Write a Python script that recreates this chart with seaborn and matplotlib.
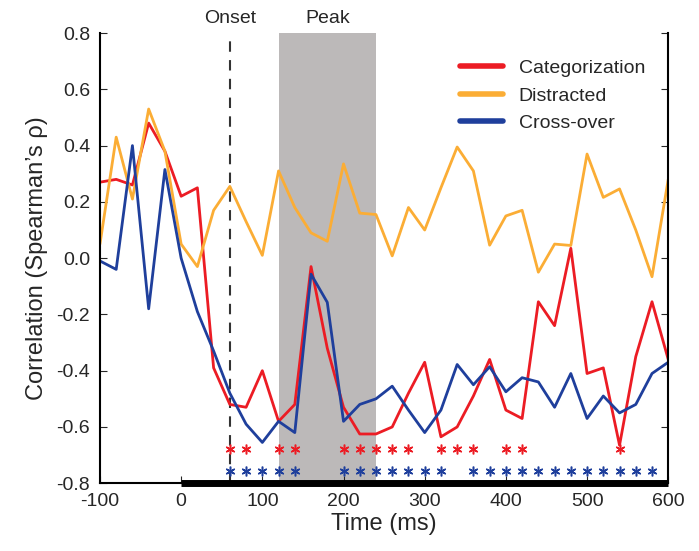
import numpy as np
import pandas as pd
import seaborn as sns
import matplotlib.pyplot as plt

times = list(range(-100, 601, 20))
categorization = [0.27, 0.28, 0.26, 0.48, 0.38, 0.22, 0.25, -0.39, -0.52, -0.53, -0.40, -0.58, -0.52, -0.03, -0.32,
                  -0.53, -0.625, -0.625, -0.60, -0.48, -0.37, -0.635, -0.60, -0.49, -0.36, -0.54, -0.57, -0.155, -0.24,
                  0.035, -0.41, -0.39, -0.665, -0.35, -0.155, -0.36]
distracted = [0.05, 0.43, 0.21, 0.53, 0.38, 0.05, -0.03, 0.17, 0.255, 0.13, 0.01, 0.31, 0.18, 0.09, 0.06, 0.335,
              0.16, 0.155, 0.008, 0.18, 0.10, 0.25, 0.395, 0.31, 0.046, 0.15, 0.17, -0.05, 0.05, 0.045, 0.37, 0.216,
              0.246, 0.10, -0.066, 0.28]
crossover = [-0.01, -0.04, 0.40, -0.18, 0.315, 0.0, -0.19, -0.33, -0.48, -0.59, -0.655, -0.58, -0.62, -0.057, -0.157,
             -0.58, -0.52, -0.50, -0.455, -0.54, -0.62, -0.54, -0.378, -0.45, -0.386, -0.475, -0.425, -0.44, -0.53,
             -0.41, -0.57, -0.49, -0.55, -0.52, -0.41, -0.37]
red_sig = [60, 80, 120, 140, 200, 220, 240, 260, 280, 320, 340, 360, 400, 420, 540]
blue_sig = [60, 80, 100, 120, 140, 200, 220, 240, 260, 280, 300, 320] + list(range(360, 581, 20))
xticks = list(range(-100, 601, 100))
yticks = [-0.8, -0.6, -0.4, -0.2, 0.0, 0.2, 0.4, 0.6, 0.8]

sns.set_style("white")
plt.rcParams['font.family'] = ['Liberation Sans', 'DejaVu Sans']

df = pd.DataFrame({"Time": times * 3,
                   "r": categorization + distracted + crossover,
                   "Condition": ["Categorization"] * 36 + ["Distracted"] * 36 + ["Cross-over"] * 36})
pal = {"Categorization": "#ec1c24", "Distracted": "#fbad35", "Cross-over": "#1f3f9c"}

fig = plt.figure(figsize=(6.99, 5.51), dpi=100)
ax = fig.add_axes([0.143, 0.123, 0.813, 0.817])
ax.axvspan(120, 240, color="#bcb9b9", zorder=0, lw=0)
ax.axvline(60, color="#333333", ls=(0, (5, 4)), lw=1.5, zorder=1)
sns.lineplot(data=df, x="Time", y="r", hue="Condition", palette=pal, lw=2, ax=ax)
ax.plot(red_sig, [-0.68] * len(red_sig), ls="none", marker=(6, 2, 0), ms=7, color="#ec1c24", mew=1.1)
ax.plot(blue_sig, [-0.755] * len(blue_sig), ls="none", marker=(6, 2, 0), ms=7, color="#1f3f9c", mew=1.1)
ax.plot([0, 600], [-0.8, -0.8], color="black", lw=5, solid_capstyle="butt", clip_on=False, zorder=5)

ax.set_xlim(-100, 600)
ax.set_ylim(-0.8, 0.8)
ax.set_xticks(xticks)
ax.set_xticklabels([str(t) for t in xticks])
ax.set_yticks(yticks)
ax.set_yticklabels([f"{v:.1f}".replace("-0.0", "0.0") for v in yticks])
ax.tick_params(labelsize=14, direction="in", length=5, right=True, bottom=True, left=True, pad=7)
for s in ["left", "bottom", "right"]:
    ax.spines[s].set_color("black")
    ax.spines[s].set_linewidth(1.5)
ax.spines["top"].set_visible(False)
ax.set_xlabel("Time (ms)", fontsize=17, labelpad=2)
ax.set_ylabel("Correlation (Spearman\u2019s \u03c1)", fontsize=17, labelpad=6)
ax.text(60, 0.82, "Onset", ha="center", va="bottom", fontsize=14)
ax.text(180, 0.82, "Peak", ha="center", va="bottom", fontsize=14)
leg = ax.legend(loc="upper right", frameon=False, fontsize=14, handlelength=2.2, bbox_to_anchor=(0.99, 0.98))
for l in leg.get_lines():
    l.set_linewidth(4)
fig.savefig("out.png", dpi=100)
